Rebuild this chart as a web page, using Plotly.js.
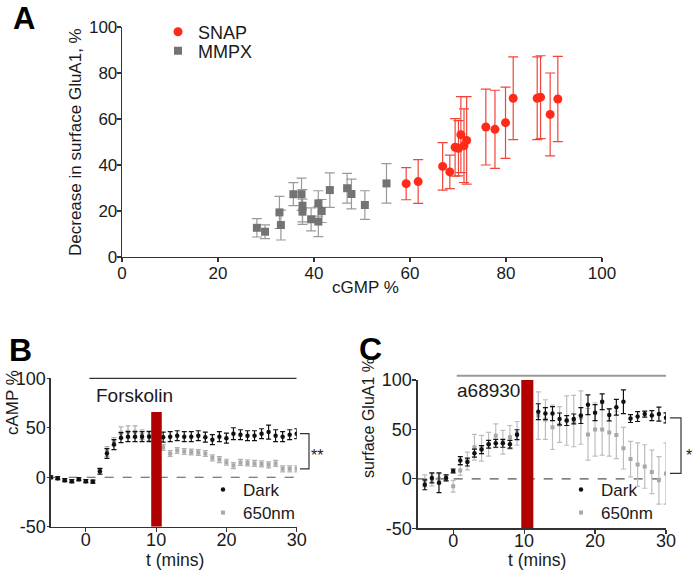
<!DOCTYPE html>
<html><head><meta charset="utf-8">
<script src="https://cdn.plot.ly/plotly-3.0.1.min.js"></script>
<style>html,body{margin:0;padding:0;background:#fff}#chart{width:693px;height:570px}</style>
</head><body><div id="chart"></div>
<script>
// ---------- Panel A data ----------
const snapX   = [59.2, 61.7, 66.8, 68.3, 69.4, 70.1, 70.6, 71.25, 71.8, 75.8, 77.7, 79.9, 81.5, 86.5, 87.2, 89.2, 90.8];
const snapY   = [31.9, 32.8, 39.4, 37.0, 47.7, 47.3, 53.2, 48.4, 50.7, 56.5, 55.5, 58.4, 69.0, 69.0, 69.5, 62.0, 68.7];
const snapErr = [7, 9.5, 10.3, 7.3, 12.5, 12, 16.5, 16, 19, 16.5, 17, 15.5, 18, 18, 18, 18, 18.5];
const mmpxX   = [28.1, 29.8, 32.8, 33.1, 35.7, 37.4, 37.6, 37.6, 39.4, 40.9, 40.9, 41.6, 43.3, 46.9, 47.8, 50.6, 55.1];
const mmpxY   = [12.7, 11.0, 19.4, 13.9, 27.3, 27.3, 22.3, 19.7, 16.4, 23.3, 15.4, 20.0, 29.1, 29.9, 27.4, 22.6, 32.0];
const mmpxErr = [4, 3, 7, 6.5, 5, 7, 7, 5.5, 5, 5.5, 6.5, 5, 7.5, 6.5, 6.5, 6.2, 8.6];
const ticksA  = [0, 20, 40, 60, 80, 100];

// ---------- Panel B data (cAMP %) ----------
const timeB     = [-5,-4,-3,-2,-1,0,1,2,3,4,5,6,7,8,9,10,11,12,13,14,15,16,17,18,19,20,21,22,23,24,25,26,27,28,29,30];
const darkB     = [0,-1,-3,-4,-2,-4,-4.5,6,24,33,40,41,41,41,41,null,40.5,41,42,41,41,42,40.5,38,41,39.5,44,43,42,42,44,45.6,42,41,43,44];
const darkBErr  = [1.5,1.5,1.5,1.5,1.5,1.5,1.5,3,5,5,5,5,5,5,5,null,5,5,5,5,5,5,5,5,5,5,6,5,5,5,5,7,6,5,5,5];
const greyB     = [0,-1,-3,-4,-2,-4,-4.5,6,26,36,45,46,46,43,42,null,30,24,27,26,25.5,25,24,19.6,17.8,15.2,11.8,15,14.5,14,13.5,12.5,14,8.5,8.5,8.5];
const greyBErr  = [1.5,1.5,1.5,1.5,1.5,1.5,1.5,2,5,4,6,6,6,5,5,null,3,3,3,3,3,3,3,3,3,3,3,3,3,3,3,3,3,3,3,3];
const forskolinPeriod = [0.5, 30];
const lightB    = [9.3, 10.8];   // 650nm pulse (min)
const lightBTop = 66;

// ---------- Panel C data (surface GluA1 %) ----------
const timeC     = [-4,-3,-2,-1,0,1,2,3,4,5,6,7,8,9,10,11,12,13,14,15,16,17,18,19,20,21,22,23,24,25,26,27,28,29,30];
const darkC     = [-6,1,-4,1,8,18.5,17,26,29.6,35,36,36,35,44.7,null,null,68,66,66,60.6,59,60.6,64,75,67,78,64.7,72.5,78,61,63,65.5,64,65.5,61.7];
const darkCErr  = [5,5,10,3,2,4,4,4,4,4,4,4,4,5,null,null,8,6,7,6,5,5,8,10,8,8,6,8,12,4,5,3,5,7,5];
const greyC     = [-2,-1,0,1,-7.5,8.5,18,32,31,35,43.7,37,42,46,null,null,64,60,52.2,55,59,58.5,62,45,50,50,47,44.4,31,20,14.5,12.5,7,-1.5,5.5];
const greyCErr  = [6,6,5,3,6,5,9,13,13,12,12,12,12,12,null,null,24,20,22.5,18,25,26,27,26,27,26,24,24,21,18,22,22,22,24,31];
const a68930Period = [0.5, 30];
const lightC    = [9.6, 11.3];
const lightCTop = 100;

const ticksBC   = [0, 10, 20, 30];
const yTicksBC  = [-50, 0, 50, 100];
const yTickTextBC = ['-50', '0', '50', '100'];

// ---------- helpers for layout positions (pixels -> paper) ----------
const W = 693, H = 570;
const px = v => v / W;
const py = v => 1 - v / H;
const FONT = '"Liberation Sans", Arial, Helvetica, sans-serif';
const RED = '#b00000';

const traces = [
  {x: snapX, y: snapY, type: 'scatter', mode: 'markers', name: 'SNAP', legend: 'legend',
   marker: {symbol: 'circle', size: 9, color: '#ff2a1a'},
   error_y: {type: 'data', array: snapErr, color: '#f2453a', thickness: 1.2, width: 5},
   xaxis: 'x', yaxis: 'y'},
  {x: mmpxX, y: mmpxY, type: 'scatter', mode: 'markers', name: 'MMPX', legend: 'legend2',
   marker: {symbol: 'square', size: 8, color: '#737373'},
   error_y: {type: 'data', array: mmpxErr, color: '#9a9a9a', thickness: 1.2, width: 5},
   xaxis: 'x', yaxis: 'y'},

  {x: timeB, y: greyB, type: 'scatter', mode: 'markers', name: '650nm', legend: 'legend4',
   marker: {symbol: 'square', size: 4, color: '#a8a8a8'},
   error_y: {type: 'data', array: greyBErr, color: '#b0b0b0', thickness: 1.2, width: 2.5},
   xaxis: 'x2', yaxis: 'y2'},
  {x: timeB, y: darkB, type: 'scatter', mode: 'markers', name: 'Dark', legend: 'legend3',
   marker: {symbol: 'circle', size: 4.5, color: '#111'},
   error_y: {type: 'data', array: darkBErr, color: '#111', thickness: 1.2, width: 2.5},
   xaxis: 'x2', yaxis: 'y2'},

  {x: timeC, y: greyC, type: 'scatter', mode: 'markers', name: '650nm', legend: 'legend6',
   marker: {symbol: 'square', size: 4, color: '#a8a8a8'},
   error_y: {type: 'data', array: greyCErr, color: '#bdbdbd', thickness: 1.2, width: 2.5},
   xaxis: 'x3', yaxis: 'y3'},
  {x: timeC, y: darkC, type: 'scatter', mode: 'markers', name: 'Dark', legend: 'legend5',
   marker: {symbol: 'circle', size: 4.5, color: '#111'},
   error_y: {type: 'data', array: darkCErr, color: '#111', thickness: 1.2, width: 2.5},
   xaxis: 'x3', yaxis: 'y3'}
];

function axis(extra) {
  return Object.assign({
    showline: true, linecolor: '#333', linewidth: 1.3, mirror: false,
    ticks: 'outside', ticklen: 4, tickwidth: 1.2, tickcolor: '#333',
    showgrid: false, zeroline: false, fixedrange: true,
    tickfont: {family: FONT, size: 18, color: '#1a1a1a'}
  }, extra);
}

function leg(xp, yp, size) {
  return {x: px(xp), y: py(yp), xanchor: 'left', yanchor: 'middle',
          bgcolor: 'rgba(0,0,0,0)', borderwidth: 0,
          font: {family: FONT, size: size, color: '#1a1a1a'}};
}

function note(text, xp, yp, size, extra) {
  return Object.assign({text: text, x: px(xp), y: py(yp), xref: 'paper', yref: 'paper',
    xanchor: 'center', yanchor: 'middle', showarrow: false,
    font: {family: FONT, size: size, color: '#1a1a1a'}}, extra || {});
}

const lastB = timeB.length - 1, lastC = timeC.length - 1;
const fontA = {family: FONT, size: 17, color: '#1a1a1a'};

const layout = {
  width: W, height: H, autosize: false, showlegend: true,
  margin: {l: 0, r: 0, t: 0, b: 0, pad: 0},
  paper_bgcolor: '#fff', plot_bgcolor: 'rgba(0,0,0,0)',
  font: {family: FONT, color: '#1a1a1a'},
  xaxis:  axis({domain: [px(122), px(602)], anchor: 'y', range: [0, 100], tickvals: ticksA, tickfont: fontA, ticklabelstandoff: -4}),
  yaxis:  axis({domain: [py(257), py(27)], anchor: 'x', range: [0, 100], tickvals: ticksA, tickfont: fontA, ticklabelstandoff: -4}),
  xaxis2: axis({domain: [px(50.7), px(296.7)], anchor: 'y2', range: [-5, 30], tickvals: ticksBC, ticklabelstandoff: -8}),
  yaxis2: axis({domain: [py(526.7), py(378.3)], anchor: 'x2', range: [-50, 100], tickvals: yTicksBC, ticktext: yTickTextBC, ticklen: 2, ticklabelstandoff: -2}),
  xaxis3: axis({domain: [px(417.7), px(666)], anchor: 'y3', range: [-5, 30], tickvals: ticksBC, ticklabelstandoff: -8}),
  yaxis3: axis({domain: [py(528.3), py(380)], anchor: 'x3', range: [-50, 100], tickvals: yTicksBC, ticktext: yTickTextBC, ticklabelstandoff: -3}),
  legend:  leg(158, 32, 18),
  legend2: leg(158, 51, 18),
  legend3: leg(203, 490, 17),
  legend4: leg(203, 513, 17),
  legend5: leg(561, 490, 17),
  legend6: leg(561, 513, 17),
  shapes: [
    // dashed zero lines
    {type: 'line', xref: 'x2', yref: 'y2', x0: -5, x1: 30, y0: 0, y1: 0, line: {color: '#555', width: 1.2, dash: 'dash'}, layer: 'below'},
    {type: 'line', xref: 'x3', yref: 'y3', x0: -5, x1: 30, y0: 0, y1: 0, line: {color: '#555', width: 1.2, dash: 'dash'}, layer: 'below'},
    // treatment bars
    {type: 'line', xref: 'x2', yref: 'y2 domain', x0: forskolinPeriod[0], x1: forskolinPeriod[1], y0: 1.0, y1: 1.0, line: {color: '#333', width: 1.3}},
    {type: 'line', xref: 'x3', yref: 'y3 domain', x0: a68930Period[0], x1: a68930Period[1], y0: 1.029, y1: 1.029, line: {color: '#999', width: 2}},
    // 650 nm light pulses
    {type: 'rect', xref: 'x2', yref: 'y2', x0: lightB[0], x1: lightB[1], y0: -50, y1: lightBTop, fillcolor: RED, line: {width: 0}, layer: 'above'},
    {type: 'rect', xref: 'x3', yref: 'y3', x0: lightC[0], x1: lightC[1], y0: -50, y1: lightCTop, fillcolor: RED, line: {width: 0}, layer: 'above'},
    // significance brackets
    {type: 'path', xref: 'paper', yref: 'y2',
     path: `M ${px(300)},${darkB[lastB]} L ${px(309)},${darkB[lastB]} L ${px(309)},${greyB[lastB]} L ${px(300)},${greyB[lastB]}`,
     line: {color: '#333', width: 1.2}},
    {type: 'path', xref: 'paper', yref: 'y3',
     path: `M ${px(670)},${darkC[lastC]} L ${px(681)},${darkC[lastC]} L ${px(681)},${greyC[lastC]} L ${px(670)},${greyC[lastC]}`,
     line: {color: '#333', width: 1.2}}
  ],
  annotations: [
    note('<b>A</b>', 24, 19, 31, {font: {family: FONT, size: 31, color: '#000'}}),
    note('<b>B</b>', 20, 350, 32, {font: {family: FONT, size: 32, color: '#000'}}),
    note('<b>C</b>', 370, 349, 32, {font: {family: FONT, size: 32, color: '#000'}}),
    note('cGMP %', 365, 287, 17),
    note('Decrease in surface GluA1, %', 75, 142, 17, {textangle: -90}),
    note('t (mins)', 175, 560, 17.5),
    note('cAMP %', 12, 403, 17, {textangle: -90}),
    note('t (mins)', 537, 560, 17.5),
    note('surface GluA1 %', 369, 418, 16, {textangle: -90}),
    note('Forskolin', 94, 395, 19, {xanchor: 'left'}),
    note('a68930', 455, 390, 19, {xanchor: 'left'}),
    note('**', 317, 455, 16),
    note('*', 689, 455, 16)
  ]
};

Plotly.newPlot('chart', traces, layout, {displayModeBar: false, staticPlot: true});
</script>
</body></html>
